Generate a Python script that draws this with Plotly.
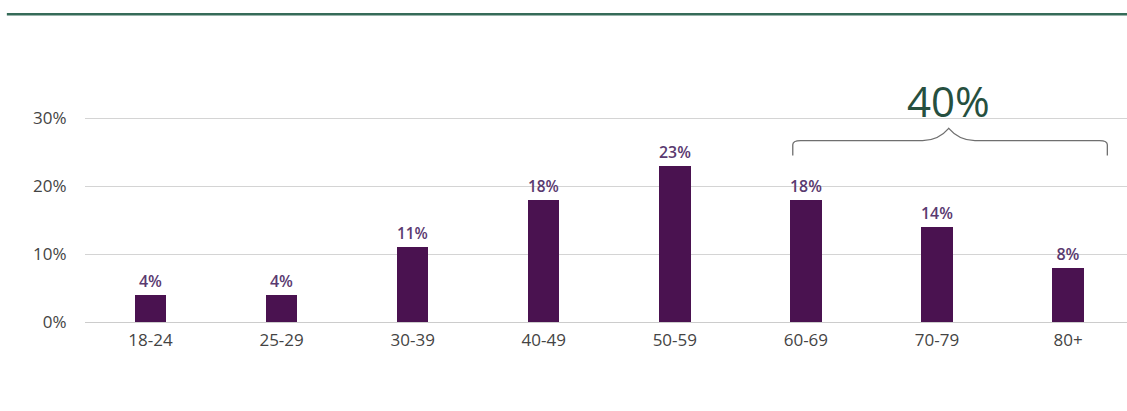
import plotly.graph_objects as go

# Age-band distribution (percent of total)
age_bands = ["18-24", "25-29", "30-39", "40-49", "50-59", "60-69", "70-79", "80+"]
share_pct = [4, 4, 11, 18, 23, 18, 14, 8]
y_ticks = [0, 10, 20, 30]
y_tick_text = ["0%", "10%", "20%", "30%"]
group_total_text = "40%"

BAR = "#4a1250"
LABEL = "#5a3a70"
AXIS_TXT = "#444444"
GREEN = "#26503f"
FONT = "Open Sans"

fig = go.Figure(
    go.Bar(
        x=list(range(len(age_bands))),
        y=share_pct,
        width=0.24,
        marker=dict(color=BAR, line=dict(width=0)),
        text=[f"{v}%" for v in share_pct],
        textposition="outside",
        cliponaxis=False,
        textfont=dict(family=FONT, size=16, color=LABEL, weight=600),
        hoverinfo="skip",
    )
)

# Bracket spanning the 60+ bands with its combined share
bx0, bx1, bmid = 4.9, 7.3, 6.09
by_end, by_bar, by_peak = 24.5, 26.7, 28.5
r = 0.06
bracket = (
    f"M {bx0},{by_end} L {bx0},{by_bar - 0.6} "
    f"Q {bx0},{by_bar} {bx0 + r},{by_bar} "
    f"L {bmid - 0.2},{by_bar} "
    f"Q {bmid - 0.08},{by_bar} {bmid},{by_peak} "
    f"Q {bmid + 0.08},{by_bar} {bmid + 0.2},{by_bar} "
    f"L {bx1 - r},{by_bar} "
    f"Q {bx1},{by_bar} {bx1},{by_bar - 0.6} L {bx1},{by_end}"
)

fig.update_layout(
    width=1127,
    height=411,
    margin=dict(l=85, r=0, t=74, b=89),
    paper_bgcolor="white",
    plot_bgcolor="white",
    showlegend=False,
    bargap=0,
    font=dict(family=FONT, color=AXIS_TXT),
    xaxis=dict(
        range=[-0.5, 7.45],
        tickmode="array",
        tickvals=list(range(len(age_bands))),
        ticktext=age_bands,
        tickfont=dict(size=17, color=AXIS_TXT),
        ticks="outside",
        ticklen=3,
        tickcolor="rgba(0,0,0,0)",
        showgrid=False,
        zeroline=False,
        showline=False,
    ),
    yaxis=dict(
        range=[0, 36.5],
        tickmode="array",
        tickvals=y_ticks,
        ticktext=y_tick_text,
        tickfont=dict(size=17, color=AXIS_TXT),
        ticks="outside",
        ticklen=14,
        tickcolor="rgba(0,0,0,0)",
        showgrid=True,
        gridcolor="#d4d4d4",
        gridwidth=1,
        zeroline=True,
        zerolinecolor="#cccccc",
        zerolinewidth=1,
        showline=False,
    ),
    shapes=[
        dict(
            type="path",
            path=bracket,
            xref="x",
            yref="y",
            line=dict(color="#6f6f6f", width=1.3),
        ),
        dict(
            type="line",
            xref="paper",
            yref="paper",
            x0=-0.075,
            x1=1.0,
            y0=1.241,
            y1=1.241,
            line=dict(color="#356b58", width=2.5),
        ),
    ],
    annotations=[
        dict(
            x=bmid,
            y=32.6,
            xref="x",
            yref="y",
            text=group_total_text,
            showarrow=False,
            font=dict(family=FONT, size=42, color=GREEN, weight=400),
            yanchor="middle",
        )
    ],
)

fig.write_html("out.html")
